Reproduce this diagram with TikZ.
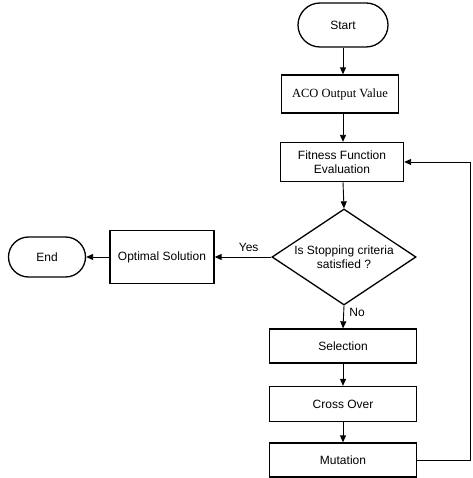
\documentclass[tikz,border=0pt]{standalone}
\usepackage{fontspec}
\setmainfont{Liberation Sans}
\newfontfamily\acofont{Liberation Serif}
\usetikzlibrary{arrows.meta,shapes.misc,shapes.geometric}
\begin{document}
\begin{tikzpicture}[x=1pt,y=-1pt,
  every node/.style={font=\fontsize{12}{14}\selectfont, align=center},
  box/.style={draw, line width=1.3pt, rectangle, inner sep=0pt},
  term/.style={draw, line width=1.3pt, rounded rectangle, inner sep=0pt},
  decide/.style={draw, line width=1.3pt, diamond, aspect=1.5, inner sep=0pt, minimum width=144, minimum height=96},
  arr/.style={line width=0.9pt, -{Triangle[length=7pt,width=6pt]}}]
\useasboundingbox (0,0) rectangle (472,478);
\node [term, minimum width=90, minimum height=44] (start) at (343,25) {Start};
\node [box, minimum width=117, minimum height=38, font=\acofont\fontsize{12.5}{14}\selectfont] (aco) at (340,94) {ACO Output Value};
\node [box, minimum width=123, minimum height=39] (fit) at (342,162) {Fitness Function\\Evaluation};
\node [decide] (dec) at (344,257) {Is Stopping criteria\\satisfied ?};
\node [box, minimum width=104, minimum height=53] (opt) at (162,257) {Optimal Solution};
\node [term, minimum width=77, minimum height=40] (end) at (47,257) {End};
\node [box, minimum width=147, minimum height=34] (sel) at (343,346) {Selection};
\node [box, minimum width=147, minimum height=35] (cro) at (343,404) {Cross Over};
\node [box, minimum width=147, minimum height=34] (mut) at (343,460) {Mutation};
\coordinate (back) at (470,460);

\draw [arr] (start.south) -- (start.south |- aco.north);
\draw [arr] (start.south |- aco.south) -- (start.south |- fit.north);
\draw [arr] (start.south |- fit.south) -- (dec.north);
\draw [arr] (dec.west) -- (opt.east) node [pos=0.4, above=2pt] (yes) {Yes};
\draw [arr] (opt.west) -- (end.east);
\draw [arr] (dec.south) -- (sel.north) node [pos=0.3, right=2pt] (no) {No};
\draw [arr] (sel.south) -- (cro.north);
\draw [arr] (cro.south) -- (mut.north);
\draw [arr] (mut.east) -- (back) |- (fit.east);
\end{tikzpicture}
\end{document}
